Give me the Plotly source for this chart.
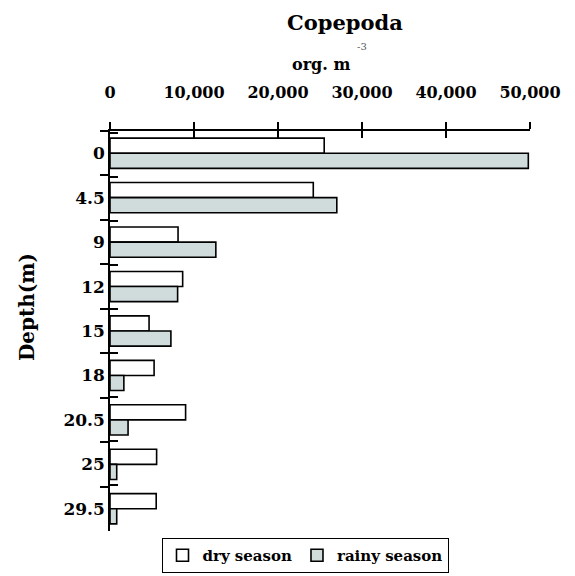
import plotly.graph_objects as go

depths = ["0", "4.5", "9", "12", "15", "18", "20.5", "25", "29.5"]
dry_season = [25500, 24200, 8100, 8650, 4650, 5250, 9000, 5550, 5500]
rainy_season = [49800, 27000, 12600, 8050, 7250, 1650, 2150, 800, 800]
x_tickvals = [0, 10000, 20000, 30000, 40000, 50000]
x_ticktext = ["0", "10,000", "20,000", "30,000", "40,000", "50,000"]

# page has an 8px body margin; compensate so the picture lands as in the reference
O = 8
W, H = 575 - O, 576 - O
L, R, T, B = 110 - O, 45, 131 - O, 53 - O
PW, PH = W - L - R, H - T - B

def px(x):
    return (x - O - L) / PW

def py(y):
    return (H - B - (y - O)) / PH

FONT = "DejaVu Serif"
bold = dict(family=FONT, weight="bold", color="black")
LW = 1.6

fig = go.Figure()
fig.add_trace(go.Bar(
    y=depths, x=dry_season, orientation="h", name="dry season",
    marker=dict(color="white", line=dict(color="black", width=LW)),
))
fig.add_trace(go.Bar(
    y=depths, x=rainy_season, orientation="h", name="rainy season",
    marker=dict(color="#d0dcdc", line=dict(color="black", width=LW)),
))
# invisible trace to activate the overlay axes carrying the inner halves of crossing ticks
fig.add_trace(go.Scatter(x=[0] * len(depths), y=depths, xaxis="x2", yaxis="y2",
                         mode="markers", marker=dict(opacity=0),
                         showlegend=False, hoverinfo="skip"))

fig.update_layout(
    width=W, height=H,
    margin=dict(l=L, r=R, t=T, b=B, pad=0, autoexpand=False),
    paper_bgcolor="white", plot_bgcolor="white",
    barmode="group", bargap=0.32, bargroupgap=0,
    showlegend=True,
    legend=dict(
        orientation="h", x=px(305), xanchor="center", y=py(538), yanchor="top",
        bordercolor="black", borderwidth=1, bgcolor="white",
        font=dict(size=15, **bold), traceorder="normal",
    ),
    xaxis=dict(
        side="top", range=[0, 50000], tickvals=x_tickvals, ticktext=x_ticktext,
        showgrid=False, zeroline=False, showline=True, linecolor="black", linewidth=LW,
        ticks="outside", ticklen=7, tickwidth=LW, tickcolor="black", automargin=False,
        ticklabelstandoff=18, tickfont=dict(size=16, **bold),
    ),
    xaxis2=dict(
        overlaying="x", side="top", range=[0, 50000], tickvals=x_tickvals,
        showticklabels=False, showgrid=False, zeroline=False, showline=False,
        ticks="inside", ticklen=7, tickwidth=LW, tickcolor="black", automargin=False,
    ),
    yaxis=dict(
        type="category", categoryorder="array", categoryarray=depths,
        autorange="reversed", showgrid=False, zeroline=False,
        showline=True, linecolor="black", linewidth=LW, automargin=False,
        ticks="outside", ticklen=8, tickwidth=LW, tickcolor="black",
        tickson="boundaries", tickfont=dict(size=17, **bold),
    ),
    yaxis2=dict(
        overlaying="y", type="category", categoryorder="array", categoryarray=depths,
        autorange="reversed", showgrid=False, zeroline=False, showline=False,
        showticklabels=False, automargin=False,
        ticks="inside", ticklen=8, tickwidth=LW, tickcolor="black", tickson="boundaries",
    ),
    annotations=[
        dict(text="Copepoda", x=px(345), y=py(22), xref="paper", yref="paper",
             xanchor="center", yanchor="middle",
             showarrow=False, font=dict(size=21, **bold)),
        dict(text="org. m", x=px(321), y=py(65), xref="paper", yref="paper",
             xanchor="center", yanchor="middle",
             showarrow=False, font=dict(size=16, **bold)),
        dict(text="-3", x=px(362), y=py(46), xref="paper", yref="paper",
             xanchor="center", yanchor="middle",
             showarrow=False, font=dict(size=10, family=FONT, color="#555555")),
        dict(text="Depth(m)", x=px(27), y=py(307), xref="paper", yref="paper",
             xanchor="center", yanchor="middle",
             showarrow=False, textangle=-90, font=dict(size=20, **bold)),
    ],
)

fig.write_html("out.html")
